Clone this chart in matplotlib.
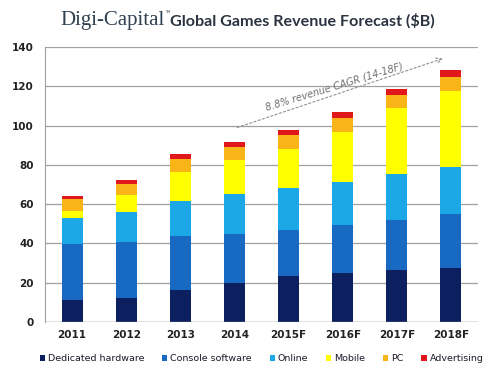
import matplotlib
matplotlib.use("Agg")
import numpy as np
import matplotlib.pyplot as plt

# data ($B)
years = ["2011", "2012", "2013", "2014", "2015F", "2016F", "2017F", "2018F"]
hardware = [11.0, 12.2, 16.1, 20.0, 23.3, 25.0, 26.3, 27.5]
console = [28.9, 28.6, 27.7, 24.7, 23.4, 24.6, 25.5, 27.4]
online = [13.3, 15.3, 18.0, 20.4, 21.3, 21.9, 23.5, 24.1]
mobile = [3.4, 8.5, 14.7, 17.3, 20.3, 25.3, 33.4, 38.6]
pc = [5.8, 5.6, 6.7, 6.8, 6.8, 6.8, 6.8, 6.9]
advertising = [1.6, 2.0, 2.3, 2.5, 2.6, 3.1, 2.9, 3.8]

names = ["Dedicated hardware", "Console software", "Online", "Mobile", "PC", "Advertising"]
colors = ["#0c1f5e", "#1769c2", "#1ca8e6", "#ffff00", "#f9b418", "#e0171b"]
series = [hardware, console, online, mobile, pc, advertising]


def main():
    fig = plt.figure(figsize=(5, 3.75), dpi=100)
    ax = fig.add_axes([0.09, 0.141, 0.866, 0.734])

    x = np.arange(len(years))
    bottom = np.zeros(len(years))
    for name, vals, c in zip(names, series, colors):
        ax.bar(x, vals, 0.39, bottom=bottom, color=c, label=name, zorder=3)
        bottom += np.array(vals)

    ax.set_ylim(0, 140)
    ax.set_xlim(-0.5, len(years) - 0.5)
    ax.set_yticks(range(0, 141, 20))
    ax.set_xticks(x)
    ax.set_xticklabels(years)
    ax.grid(axis="y", color="#a0a0a0", linewidth=0.9, zorder=0)
    ax.tick_params(axis="y", length=0, labelsize=7.5, pad=8, colors="#222222")
    ax.tick_params(axis="x", length=0, labelsize=7.5, pad=6, colors="#222222")
    for lab in ax.get_xticklabels() + ax.get_yticklabels():
        lab.set_fontweight("bold")
    for s in ["top", "right", "bottom"]:
        ax.spines[s].set_visible(False)
    ax.spines["left"].set_color("#a0a0a0")
    ax.axhline(0, color="#a0a0a0", linewidth=1, zorder=4)

    # CAGR arrow
    ax.annotate("", xy=(6.9, 134.5), xytext=(3.0, 98.5),
                arrowprops=dict(arrowstyle="->", linestyle=(0, (2, 2)),
                                color="#909090", linewidth=0.8))
    ax.text(4.85, 119.5, "8.8% revenue CAGR (14-18F)", rotation=17,
            ha="center", va="center", fontsize=7, style="italic", color="#707070")

    # title
    fig.text(0.33, 0.932, "Digi-Capital", ha="right", va="baseline",
             family="Liberation Serif", fontsize=15, color="#2f4050")
    fig.text(0.331, 0.968, "TM", ha="left", va="center", fontsize=2.5, color="#2f4050")
    fig.text(0.34, 0.932, "Global Games Revenue Forecast ($B)", ha="left", va="baseline",
             family="Lato", fontsize=11.6, fontweight="bold", color="#2b3440")

    ax.legend(loc="upper center", bbox_to_anchor=(0.5, -0.085), ncol=6, frameon=False,
              handlelength=0.55, handleheight=0.55, handletextpad=0.3,
              columnspacing=1.9, prop={"size": 6.8}, labelcolor="#1a1a2a")

    fig.savefig("out.png", dpi=100)


if __name__ == "__main__":
    main()
